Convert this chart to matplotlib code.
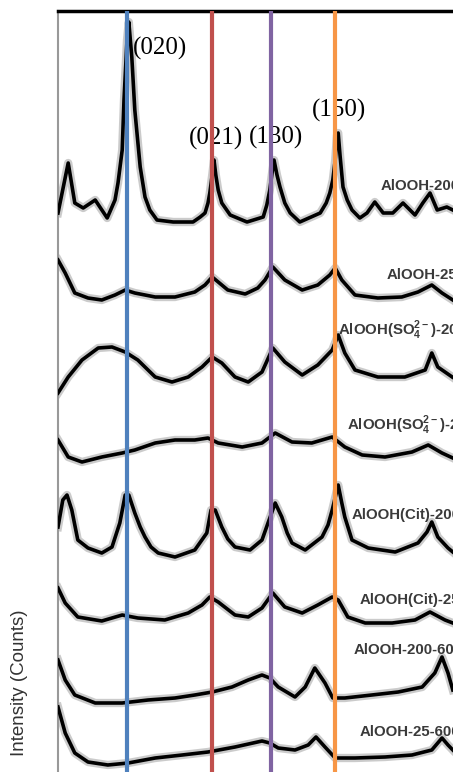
import matplotlib
matplotlib.use("Agg")
import matplotlib.pyplot as plt

plt.rcParams["mathtext.fontset"] = "custom"
plt.rcParams["mathtext.rm"] = "Liberation Sans"
plt.rcParams["mathtext.bf"] = "Liberation Sans:bold"

# Reference reflections of boehmite (2-theta, degrees)
ref_planes = ["(020)", "(021)", "(130)", "(150)"]
ref_positions = [14.5, 28.7, 38.5, 49.2]
ref_colors = ["#4F81BD", "#C0504D", "#8064A2", "#F79646"]

sample_names = [
    "AlOOH-200",
    "AlOOH-25",
    r"AlOOH(SO$_\mathbf{4}^\mathbf{2-}$)-200",
    r"AlOOH(SO$_\mathbf{4}^\mathbf{2-}$)-25",
    "AlOOH(Cit)-200",
    "AlOOH(Cit)-25",
    "AlOOH-200-600",
    "AlOOH-25-600",
]
# vertical stacking offsets of each pattern
offsets = [550, 474, 392, 314, 219, 152, 72, 10]

# patterns: 2-theta and intensity (a.u.)
tt_200 = [3.0, 4.7, 5.8, 7.2, 9.2, 11.2, 12.5, 13.0, 13.7, 14.0, 14.5, 14.8, 15.3, 15.8,
          16.7, 17.5, 18.3, 19.5, 22.2, 25.5, 26.7, 27.5, 28.0, 28.3, 28.7, 29.0, 29.3,
          29.7, 30.3, 31.7, 34.5, 37.2, 37.8, 38.3, 38.7, 39.0, 39.5, 40.0, 40.8, 41.7,
          43.3, 46.7, 47.7, 48.3, 48.8, 49.2, 49.5, 49.7, 50.0, 50.5, 51.2, 52.0, 53.3,
          54.5, 55.8, 57.2, 58.8, 60.5, 62.5, 63.8, 65.0, 66.2, 67.8, 68.8]
i_200 = [9, 59, 19, 14, 22, 4, 22, 39, 72, 122, 182, 200, 165, 112,
         55, 25, 12, 2, 0, 0, 5, 9, 19, 29, 47, 62, 47,
         32, 19, 7, 0, 5, 17, 32, 50, 62, 47, 35, 19, 9,
         0, 9, 19, 29, 42, 62, 87, 89, 67, 35, 22, 12, 4,
         9, 20, 9, 9, 19, 7, 19, 29, 12, 15, 12]

tt_25 = [3.0, 4.2, 5.8, 8.0, 10.3, 12.5, 14.2, 15.8, 19.2, 22.5, 25.8, 27.5, 28.7, 29.7,
         31.3, 34.2, 36.3, 37.5, 38.8, 40.8, 43.7, 46.3, 48.3, 49.2, 50.3, 52.5, 56.3,
         60.3, 63.0, 65.3, 67.0, 68.8]
i_25 = [38, 25, 5, 0, -2, 3, 8, 5, 1, 1, 6, 13, 21, 16,
        8, 4, 10, 18, 31, 18, 8, 13, 23, 30, 18, 3, 0,
        1, 6, 13, 5, -2]

tt_so4_200 = [3.0, 4.7, 7.0, 9.7, 12.0, 14.2, 16.3, 19.2, 22.0, 24.7, 27.0, 28.7, 30.3,
              32.5, 34.7, 37.0, 38.8, 40.8, 43.7, 46.3, 48.7, 49.7, 50.8, 52.5, 56.3,
              60.8, 64.2, 65.3, 66.3, 68.7]
i_so4_200 = [-13, 3, 20, 32, 33, 28, 20, 3, -2, 3, 13, 23, 17,
             3, -2, 8, 32, 18, 5, 15, 30, 45, 27, 10, 3,
             3, 10, 27, 13, 3]

tt_so4_25 = [3.0, 4.7, 7.0, 10.3, 13.7, 15.8, 19.2, 22.5, 25.8, 28.0, 29.7, 33.7, 37.0,
             39.2, 42.0, 45.3, 48.7, 50.8, 53.7, 57.5, 62.0, 64.7, 67.0, 68.8]
i_so4_25 = [18, 1, -4, 1, 5, 8, 15, 18, 18, 20, 15, 11, 15,
            25, 16, 15, 21, 11, 3, 1, 6, 13, 5, 0]

tt_cit_200 = [3.0, 3.8, 4.5, 5.3, 6.3, 8.0, 10.3, 12.0, 13.3, 14.2, 14.8, 15.8, 16.7,
              17.5, 18.5, 19.7, 22.5, 25.8, 27.8, 28.5, 29.2, 30.3, 31.3, 32.5, 35.0,
              37.0, 38.0, 39.2, 40.3, 41.2, 42.0, 44.2, 47.0, 48.0, 48.7, 49.7, 50.3,
              50.8, 52.0, 54.7, 59.2, 63.0, 64.5, 65.3, 66.3, 68.0, 68.8]
i_cit_200 = [26, 53, 58, 43, 13, 5, 0, 6, 30, 58, 58, 40, 26,
             16, 6, 0, -4, 3, 20, 43, 43, 26, 14, 6, 3,
             13, 30, 50, 36, 20, 10, 3, 16, 28, 43, 68, 50,
             36, 13, 5, 1, 10, 21, 31, 16, 5, 1]

tt_cit_25 = [3.0, 4.2, 6.3, 10.3, 13.7, 16.3, 20.8, 24.7, 27.0, 28.3, 29.7, 32.5, 34.7,
             37.0, 38.8, 40.8, 43.7, 46.3, 48.7, 49.7, 51.3, 54.2, 58.7, 62.5, 65.0,
             67.5, 68.8]
i_cit_25 = [32, 17, 3, -1, 5, 2, 0, 7, 15, 23, 18, 5, 3,
            12, 27, 13, 7, 15, 23, 20, 3, -3, -3, 0, 8,
            0, -3]

tt_200_600 = [3.0, 4.2, 5.8, 9.2, 13.7, 18.0, 22.5, 25.8, 28.7, 32.0, 34.7, 37.0, 38.3,
              39.7, 42.5, 44.2, 45.8, 47.5, 48.8, 50.8, 55.3, 59.7, 63.7, 65.8, 67.0,
              68.0, 68.8]
i_200_600 = [40, 20, 5, -3, -3, 0, 2, 5, 8, 13, 20, 25, 22,
             13, 3, 13, 32, 17, 2, 2, 5, 8, 13, 27, 43,
             27, 10]

tt_25_600 = [3.0, 4.2, 5.8, 8.0, 11.3, 14.7, 19.2, 23.7, 28.0, 32.5, 37.0, 38.3, 39.7,
             42.5, 44.7, 46.0, 47.5, 49.2, 52.5, 57.5, 62.0, 65.3, 67.0, 68.0, 68.8]
i_25_600 = [55, 29, 9, 0, -3, -1, 4, 7, 10, 15, 21, 19, 14,
            12, 17, 25, 15, 4, 4, 5, 7, 12, 24, 17, 12]

patterns = [
    (tt_200, i_200),
    (tt_25, i_25),
    (tt_so4_200, i_so4_200),
    (tt_so4_25, i_so4_25),
    (tt_cit_200, i_cit_200),
    (tt_cit_25, i_cit_25),
    (tt_200_600, i_200_600),
    (tt_25_600, i_25_600),
]

# where each sample name sits (2-theta, stacked intensity)
name_pos = [(56.8, 586), (57.8, 497), (49.7, 442), (51.2, 347),
            (52.0, 257), (53.3, 172), (52.2, 122), (53.2, 40)]
plane_pos = [(15.5, 724), (24.8, 634), (34.8, 635), (45.3, 662)]

fig = plt.figure(figsize=(4.53, 7.72), dpi=100)
ax = fig.add_axes([58 / 453, 0.0, 462 / 453, 761 / 772])
ax.set_xlim(3, 80)
ax.set_ylim(0, 761)

for (tt, inten), off in zip(patterns, offsets):
    y = [v + off for v in inten]
    ax.plot(tt, y, color="#555555", lw=6, alpha=0.3, solid_joinstyle="round", zorder=2)
    ax.plot(tt, y, color="black", lw=2.6, solid_joinstyle="round", zorder=3)

for pos, col in zip(ref_positions, ref_colors):
    ax.axvline(pos, color=col, lw=3, zorder=5)

for name, (x, y) in zip(sample_names, name_pos):
    ax.text(x, y, name, fontsize=10.8, fontweight="bold", color="#3a3a3a",
            family="Liberation Sans", ha="left", va="center", zorder=4)

for plane, (x, y) in zip(ref_planes, plane_pos):
    ax.text(x, y, plane, fontsize=18, family="Liberation Serif",
            ha="left", va="center", zorder=4)

fig.text(20 / 453, 1 - 683 / 772, "Intensity (Counts)", rotation=90,
         fontsize=13.5, color="#333333", family="Liberation Sans",
         ha="center", va="center")

ax.set_xticks([])
ax.set_yticks([])
ax.spines["left"].set_color("#999999")
ax.spines["left"].set_linewidth(1.5)
ax.spines["top"].set_linewidth(2.5)
ax.spines["right"].set_visible(False)
ax.spines["bottom"].set_visible(False)

fig.savefig("out.png", dpi=100)
